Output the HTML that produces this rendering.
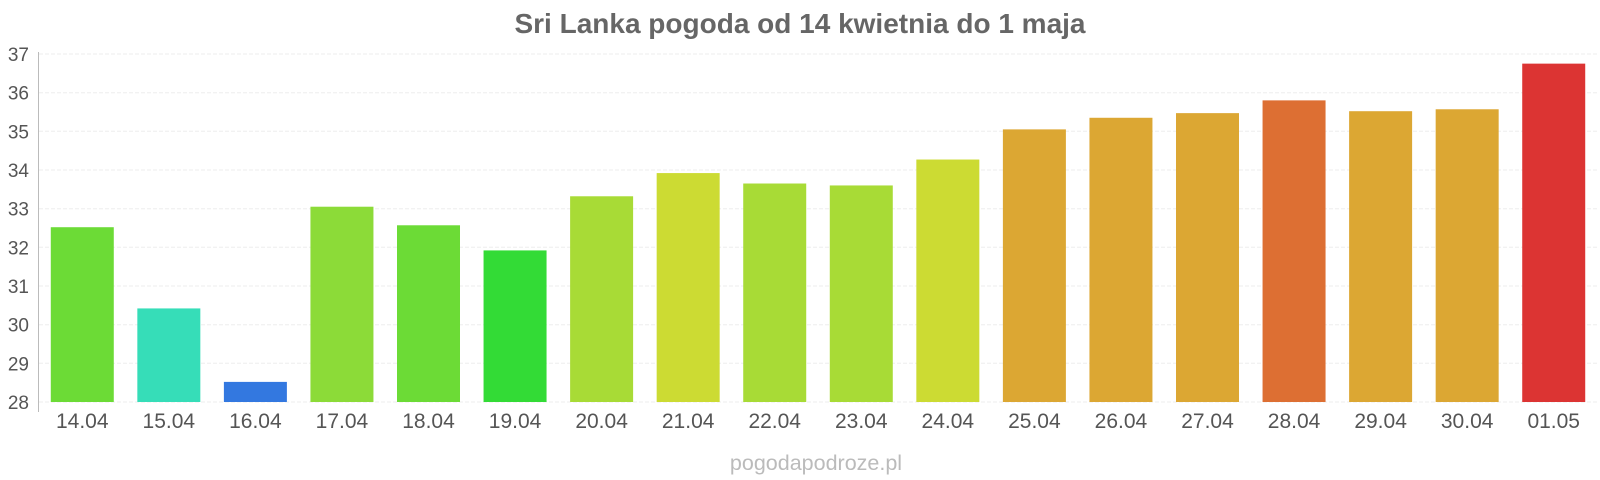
<!DOCTYPE html>
<html><head><meta charset="utf-8"><style>
body{margin:0;background:#fff;}
svg{display:block;font-family:"Liberation Sans",sans-serif;}
</style></head><body>
<svg width="1600" height="480" viewBox="0 0 1600 480">
<text x="800" y="33" text-anchor="middle" font-size="28" font-weight="bold" fill="#666">Sri Lanka pogoda od 14 kwietnia do 1 maja</text>
<g stroke="#eee" stroke-width="1" stroke-dasharray="4,2">
<line x1="39" x2="1597" y1="54" y2="54"/><line x1="39" x2="1597" y1="92.7" y2="92.7"/><line x1="39" x2="1597" y1="131.3" y2="131.3"/><line x1="39" x2="1597" y1="170" y2="170"/><line x1="39" x2="1597" y1="208.7" y2="208.7"/><line x1="39" x2="1597" y1="247.3" y2="247.3"/><line x1="39" x2="1597" y1="286" y2="286"/><line x1="39" x2="1597" y1="324.7" y2="324.7"/><line x1="39" x2="1597" y1="363.3" y2="363.3"/><line x1="39" x2="1597" y1="402" y2="402"/>
</g>
<line x1="38.5" x2="38.5" y1="52" y2="412" stroke="#bbb"/>
<g font-size="19" fill="#555" text-anchor="end">
<text x="29" y="61">37</text><text x="29" y="99.7">36</text><text x="29" y="138.3">35</text><text x="29" y="177">34</text><text x="29" y="215.7">33</text><text x="29" y="254.3">32</text><text x="29" y="293">31</text><text x="29" y="331.7">30</text><text x="29" y="370.3">29</text><text x="29" y="409">28</text>
</g>
<g id="bars"></g>
<g id="labels" font-size="21" fill="#555" text-anchor="middle"></g>
<text x="816" y="470" text-anchor="middle" font-size="21.5" fill="#bbb">pogodapodroze.pl</text>
</svg>
<script>
var v=[32.52,30.42,28.52,33.05,32.57,31.92,33.32,33.92,33.65,33.6,34.27,35.05,35.35,35.47,35.8,35.52,35.57,36.75];
var c=["#6cdb36","#36ddb8","#3378e0","#8cdb38","#6cdb36","#33db36","#a8db36","#ccdb33","#a8db36","#a8db36","#ccdb33","#dca733","#dca733","#dca733","#dd6f33","#dca733","#dca733","#dc3433"];
var l=["14.04","15.04","16.04","17.04","18.04","19.04","20.04","21.04","22.04","23.04","24.04","25.04","26.04","27.04","28.04","29.04","30.04","01.05"];
var ns="http://www.w3.org/2000/svg",b=document.getElementById("bars"),t=document.getElementById("labels");
var w=(1597-39)/18;
for(var i=0;i<18;i++){var cx=39+w*(i+0.5);var y=402-(v[i]-28)*38.67;
var r=document.createElementNS(ns,"rect");r.setAttribute("x",cx-31.5);r.setAttribute("width",63);r.setAttribute("y",y);r.setAttribute("height",402-y);r.setAttribute("fill",c[i]);b.appendChild(r);
var s=document.createElementNS(ns,"text");s.setAttribute("x",cx);s.setAttribute("y",428);s.textContent=l[i];t.appendChild(s);}
</script>
</body></html>
